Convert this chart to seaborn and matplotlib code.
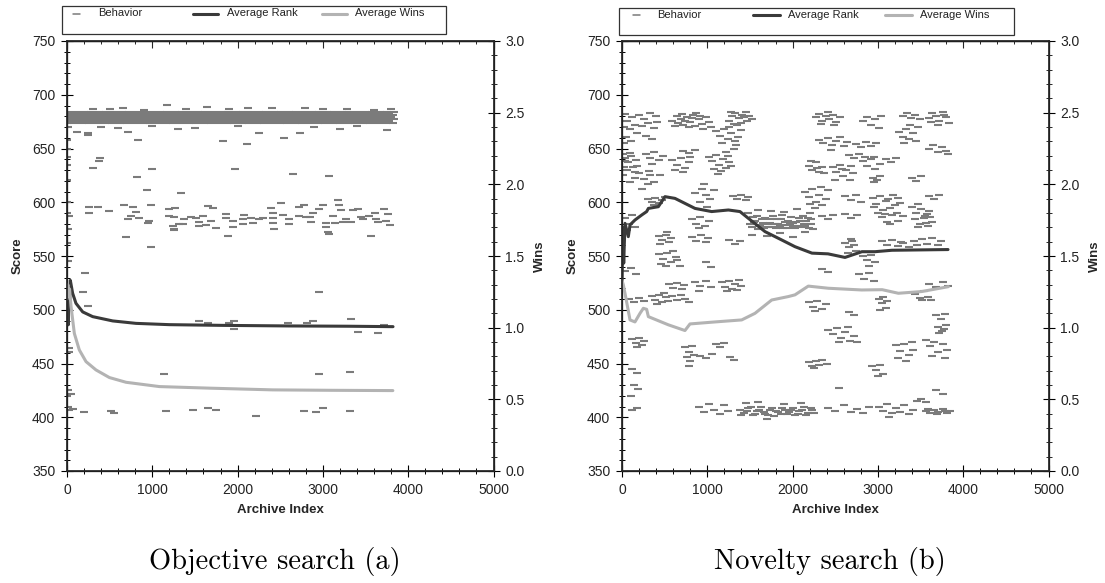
import numpy as np
import pandas as pd
import matplotlib
matplotlib.use("Agg")
import matplotlib.pyplot as plt
import seaborn as sns
from matplotlib.ticker import MultipleLocator
from matplotlib.patches import Rectangle
from matplotlib.lines import Line2D

sns.set_theme(style="white")
plt.rcParams["font.family"] = ["Liberation Sans", "DejaVu Sans"]

# ---------------- data ----------------
legend_labels = ["Behavior", "Average Rank", "Average Wins"]
captions = ["Objective search (a)", "Novelty search (b)"]
x_ticks = [0, 1000, 2000, 3000, 4000, 5000]
score_ticks = [350, 400, 450, 500, 550, 600, 650, 700, 750]
wins_ticks = [0.0, 0.5, 1.0, 1.5, 2.0, 2.5, 3.0]

# Objective search: Average Rank / Average Wins (archive index, wins)
rank_a_x = [0, 8, 15, 22, 30, 39, 66, 105, 184, 301, 536, 809, 1200, 1826, 2600, 3300, 3822]
rank_a_w = [1.10, 1.25, 1.02, 1.28, 1.15, 1.33, 1.24, 1.17, 1.11, 1.077, 1.047, 1.030, 1.021, 1.016, 1.012, 1.010, 1.007]
wins_a_x = [0, 10, 20, 30, 47, 86, 144, 223, 340, 497, 692, 1083, 1670, 2412, 3100, 3820]
wins_a_w = [1.20, 1.30, 1.22, 1.27, 1.15, 0.96, 0.845, 0.763, 0.705, 0.652, 0.619, 0.589, 0.578, 0.566, 0.563, 0.561]

# Novelty search: Average Rank / Average Wins
rank_b_x = [0, 10, 20, 35, 74, 94, 152, 231, 289, 309, 426, 504, 621, 856, 1051, 1247, 1383, 1481,
            1677, 1872, 2028, 2227, 2415, 2614, 2813, 2966, 3165, 3822]
rank_b_w = [1.28, 1.70, 1.45, 1.728, 1.635, 1.717, 1.751, 1.786, 1.81, 1.832, 1.844, 1.914, 1.902, 1.832,
            1.81, 1.821, 1.81, 1.763, 1.67, 1.612, 1.565, 1.52, 1.515, 1.49, 1.53, 1.53, 1.54, 1.545]
wins_b_x = [0, 15, 35, 94, 152, 211, 250, 289, 309, 543, 738, 797, 1090, 1403, 1559, 1755, 1950, 2028,
            2184, 2419, 2810, 3050, 3240, 3513, 3826]
wins_b_w = [1.33, 1.30, 1.24, 1.054, 1.04, 1.10, 1.135, 1.128, 1.077, 1.02, 0.98, 1.026, 1.04, 1.054, 1.10,
            1.193, 1.217, 1.229, 1.29, 1.275, 1.263, 1.265, 1.24, 1.252, 1.286]

# Objective search behavior: dense band around 673-685 (rows of dashes)
band_x_a = [0, 85, 178, 262, 355, 441, 530, 622, 708, 801, 889, 976, 1068, 1155, 1247, 1333, 1425, 1512, 1604,
            1690, 1783, 1871, 1960, 2049, 2137, 2228, 2315, 2404, 2492, 2583, 2671, 2760, 2848, 2937, 3027,
            3115, 3204, 3292, 3381, 3470, 3558, 3647, 3735, 3822]
band_x_b = [42, 130, 221, 309, 398, 487, 575, 664, 753, 842, 930, 1019, 1110, 1198, 1288, 1377, 1466, 1556,
            1645, 1735, 1825, 1914, 2003, 2093, 2182, 2271, 2360, 2448, 2538, 2627, 2716, 2805, 2893, 2982,
            3071, 3160, 3249, 3337, 3426, 3515, 3603, 3692, 3780]
band_x_c = [15, 104, 196, 283, 372, 460, 551, 640, 727, 820, 907, 995, 1087, 1175, 1266, 1352, 1444, 1531,
            1623, 1709, 1802, 1890, 1979, 2068, 2156, 2247, 2334, 2423, 2511, 2602, 2690, 2779, 2867, 2956,
            3046, 3134, 3223, 3311, 3400, 3489, 3577, 3666, 3754, 3830]
band_x_d = [60, 148, 239, 327, 416, 505, 593, 682, 771, 860, 948, 1037, 1128, 1216, 1306, 1395, 1484, 1574,
            1663, 1753, 1843, 1932, 2021, 2111, 2200, 2289, 2378, 2466, 2556, 2645, 2734, 2823, 2911, 3000,
            3089, 3178, 3267, 3355, 3444, 3533, 3621, 3710, 3798]
band_rows_y = [673.6, 675.4, 677.2, 679.0, 680.8, 682.6, 684.4]
band_rows_x = [band_x_a, band_x_b, band_x_c, band_x_d, band_x_a, band_x_b, band_x_c]

obj_near_band = [(657, 688), (1172, 690.5), (1637, 689), (2122, 688), (2790, 688), (3279, 686.5), (300, 687),
                 (900, 686), (1400, 687), (1900, 686.5), (2400, 687.5), (3000, 687), (3600, 686), (500, 686.5),
                 (3800, 687), (113, 665.6), (248, 664.7), (250, 662.5), (717, 665.6), (829, 658), (1829, 657.3),
                 (2107, 653.9), (2255, 664), (2544, 659.5), (2731, 664), (3200, 667.8), (3748, 667), (400, 670),
                 (1000, 671), (1500, 669.5), (2000, 670.5), (2900, 670), (3400, 671), (1300, 668), (600, 669)]
obj_mid = [(387, 641.5), (380, 638.4), (309, 631.6), (993, 630.7), (817, 623.8), (934, 611.4), (1336, 608.3),
           (1970, 631), (2646, 626), (3075, 624), (0, 657.9), (0, 650), (0, 642), (0, 634.7), (0, 620.7),
           (0, 589.7), (0, 561.8), (10, 670), (5, 600), (15, 575), (10, 545)]
obj_cluster = [(262, 595.3), (360, 595.3), (497, 591.9), (254, 589.7), (27, 587.2), (672, 597.4), (770, 595.9),
               (809, 591.2), (751, 587.2), (712, 584.1), (848, 585.7), (985, 597.4), (966, 582.6), (946, 580.4),
               (1200, 593.4), (1271, 595), (1200, 587.2), (1259, 586), (1376, 584.1), (1357, 579.8), (1239, 577.9),
               (1259, 574.8), (1318, 579.5), (1454, 586.6), (1513, 585.7), (1591, 587.2), (1650, 596.5),
               (1709, 594.4), (1552, 581.9), (1689, 582.6), (1630, 578.8), (1552, 577.9), (1748, 576.4),
               (1865, 588.8), (1865, 585.7), (1943, 582.6), (1943, 576.7), (2061, 579.5), (2061, 584.1),
               (2080, 588.1), (2158, 585.7), (2178, 580.4), (2256, 584.1), (2295, 585), (2393, 594.4),
               (2412, 590.3), (2412, 585), (2412, 580.4), (2432, 574.8), (2510, 599), (2530, 588.1), (2608, 584.1),
               (2608, 579.5), (2725, 595.3), (2725, 587.2), (2784, 597.4), (2803, 586.6), (2843, 586.6),
               (2862, 581.9), (2882, 589.7), (2960, 593.4), (2999, 597.4), (3038, 581), (3038, 577.3),
               (3058, 572.7), (3077, 570.5), (3116, 587.2), (3136, 580.4), (3175, 602.1), (3194, 597.4),
               (3214, 592.8), (3234, 581.9), (3273, 584.1), (3331, 581.9), (3351, 592.8), (3409, 593.4),
               (3449, 586.6), (3468, 584.1), (3546, 587.2), (3605, 589.7), (3624, 584.1), (3644, 581.9),
               (3722, 593.4), (3761, 589.1), (3781, 578.8), (3742, 582.9), (692, 568), (1885, 568.6), (3566, 568.6),
               (985, 558), (1259, 574.2)]
obj_low = [(215, 534.5), (184, 516.2), (242, 503.8), (2952, 516.2), (1552, 489.6), (1650, 488), (1963, 489.6),
           (1963, 482.1), (1904, 487.4), (2588, 487.4), (2811, 487.4), (2889, 489.6), (3331, 491.1), (3409, 479.6),
           (3644, 478.7), (3722, 485.9), (1134, 440), (2952, 440), (3312, 441.8), (66, 407.4), (203, 404.6),
           (516, 405.9), (555, 403.7), (1161, 405.9), (1474, 406.8), (1650, 408.4), (1748, 406.8), (2217, 401.2),
           (2784, 406.2), (2921, 404.6), (2999, 408.4), (3312, 405.6), (27, 464), (19, 461), (8, 425.4),
           (47, 421.7), (0, 420), (8, 410), (19, 406.8)]

# Novelty search behavior
nov_upper = [(30, 682), (120, 679), (60, 676), (200, 681), (260, 677), (150, 672), (330, 683), (400, 680),
             (20, 670), (90, 668), (240, 671), (310, 674), (380, 669), (180, 664), (50, 661), (280, 662),
             (410, 675), (110, 657), (350, 659), (20, 655),
             (590, 676), (640, 680), (690, 677), (720, 672), (760, 679), (800, 675), (830, 681), (860, 671),
             (900, 677), (940, 673), (980, 679), (1020, 675), (620, 671), (700, 682), (780, 670), (870, 683),
             (950, 668), (1040, 670), (660, 674), (740, 676), (820, 678), (910, 680),
             (1250, 676), (1290, 680), (1330, 683), (1370, 678), (1410, 681), (1450, 684), (1490, 680),
             (1520, 677), (1310, 673), (1390, 674), (1460, 676), (1280, 684), (1350, 672), (1430, 679),
             (1100, 666), (1150, 662), (1200, 668), (1240, 659), (1280, 664), (1320, 657), (1360, 661),
             (1390, 667), (1170, 655), (1260, 670), (1310, 650), (1220, 647), (1340, 653),
             (2270, 679), (2310, 682), (2350, 676), (2390, 680), (2430, 677), (2470, 681), (2510, 675),
             (2550, 679), (2330, 673), (2410, 684), (2490, 672),
             (2820, 676), (2870, 679), (2920, 672), (2970, 677), (3010, 669), (3040, 680),
             (3290, 680), (3340, 683), (3390, 678), (3440, 681), (3490, 677), (3470, 670), (3380, 672),
             (3600, 678), (3640, 683), (3680, 680), (3720, 676), (3760, 684), (3800, 679), (3830, 674),
             (3700, 672), (3780, 681), (3620, 675),
             (3250, 665), (3290, 661), (3330, 668), (3370, 659), (3410, 664), (3450, 657), (3310, 655),
             (2310, 658), (2360, 655), (2410, 660), (2460, 653), (2510, 657), (2560, 661), (2600, 652),
             (2640, 656), (2450, 649), (2740, 654), (2800, 651), (2860, 656), (2920, 652), (2980, 655),
             (3600, 650), (3650, 653), (3700, 647), (3750, 651), (3800, 648), (3820, 645)]
nov_middle = [(10, 645), (40, 641), (70, 637), (100, 643), (130, 633), (160, 639), (20, 633), (60, 630),
              (150, 628), (90, 646), (180, 634), (30, 638), (280, 645), (330, 641), (380, 647), (430, 639),
              (480, 643), (350, 636), (590, 639), (640, 635), (690, 641), (740, 632), (790, 637), (620, 630),
              (720, 628), (800, 642), (710, 648), (780, 646), (850, 649),
              (1020, 642), (1060, 638), (1100, 644), (1140, 635), (1180, 640), (1220, 632), (1260, 637),
              (1080, 631), (1160, 629), (1240, 643), (1280, 634), (1120, 626),
              (200, 627), (260, 622), (320, 629), (380, 619), (440, 625), (300, 617), (230, 612),
              (940, 612), (990, 607), (1030, 603), (960, 617),
              (2190, 634), (2230, 630), (2270, 637), (2310, 628), (2350, 633), (2210, 638), (2290, 632),
              (2370, 627), (2470, 633), (2510, 628), (2550, 635), (2590, 624), (2630, 630), (2670, 621),
              (2710, 627), (2500, 621), (2580, 631), (2690, 634), (2660, 644), (2720, 641), (2780, 645),
              (2850, 642), (2820, 638), (2870, 634), (2920, 640), (2970, 631), (3020, 636), (2950, 642),
              (3090, 640), (3150, 637), (3210, 641), (2940, 623), (2990, 621), (3030, 624), (2960, 619),
              (3400, 623), (3450, 620), (3500, 624), (10, 625), (90, 619), (150, 623), (330, 625),
              (310, 603), (350, 600), (390, 604), (430, 599), (470, 602), (500, 605), (370, 597),
              (860, 609), (920, 600), (1000, 596), (1080, 611),
              (1300, 606), (1350, 603), (1400, 607), (1450, 602), (1480, 605),
              (2150, 610), (2190, 605), (2230, 612), (2270, 600), (2310, 607), (2350, 597), (2390, 603),
              (2420, 611), (2200, 598), (2330, 614), (2260, 595),
              (2620, 606), (2680, 602), (2740, 607), (2800, 600),
              (2940, 604), (2980, 598), (3020, 606), (3060, 593), (3100, 601), (3140, 595), (3180, 607),
              (3220, 590), (3260, 599), (3000, 590), (3120, 603), (3200, 597), (2960, 596), (3080, 589),
              (3240, 604), (3600, 606), (3660, 603), (3720, 607),
              (3400, 596), (3450, 590), (3500, 594), (3550, 587), (3600, 592), (3470, 598), (3580, 589)]
nov_dense = [(1500, 580), (1560, 583), (1620, 578), (1680, 585), (1740, 581), (1800, 576), (1860, 584),
             (1920, 579), (1980, 586), (2040, 582), (2100, 577), (2160, 583), (2210, 580),
             (1530, 586), (1590, 575), (1650, 581), (1710, 577), (1770, 587), (1830, 580), (1890, 576),
             (1950, 583), (2010, 578), (2070, 585), (2130, 580), (2190, 576),
             (1520, 577), (1580, 587), (1640, 584), (1700, 580), (1760, 577), (1820, 584), (1880, 588),
             (1940, 576), (2000, 581), (2060, 578), (2120, 587), (2180, 585),
             (1550, 582), (1610, 579), (1670, 576), (1730, 584), (1790, 580), (1850, 578), (1910, 582),
             (1970, 580), (2030, 576), (2090, 583), (2150, 578), (2220, 584),
             (1480, 590), (1600, 593), (1750, 592), (1900, 591), (2050, 594), (2200, 590), (1520, 570),
             (1700, 569), (1850, 571), (2000, 568), (2150, 572), (2240, 575)]
nov_lower = [(40, 585), (80, 580), (120, 588), (60, 574), (150, 577),
             (820, 584), (870, 580), (920, 586), (970, 578), (1020, 583), (900, 576),
             (2350, 587), (2410, 584), (2470, 588), (2620, 589), (2690, 585), (2760, 588),
             (3050, 586), (3110, 582), (3170, 588), (3230, 583), (3290, 587), (3140, 580),
             (3440, 584), (3490, 580), (3540, 585), (3590, 578), (3640, 582), (3470, 577), (3560, 581), (3610, 586),
             (430, 569), (470, 565), (510, 570), (550, 563), (580, 567), (450, 561), (530, 572),
             (820, 568), (870, 564), (930, 570), (980, 563), (1010, 567),
             (1260, 565), (1320, 561), (1380, 564),
             (2620, 562), (2660, 558), (2700, 564), (2740, 555), (2650, 553), (2720, 560), (2680, 566),
             (3050, 564), (3110, 560), (3170, 565), (3230, 559), (3270, 563),
             (3300, 562), (3360, 558), (3420, 564), (3460, 560),
             (3520, 566), (3580, 561), (3640, 567), (3700, 560), (3740, 564),
             (2820, 550), (2870, 546), (2920, 551), (2970, 544), (2900, 541),
             (430, 552), (480, 547), (530, 553), (580, 544), (630, 549), (680, 541), (510, 541), (600, 555),
             (460, 543), (650, 546), (980, 544), (1040, 540),
             (40, 536), (110, 539), (160, 533), (2350, 538), (2420, 535),
             (2780, 533), (2840, 529), (2900, 534), (2950, 527),
             (550, 524), (600, 520), (650, 525), (700, 519), (730, 523),
             (860, 526), (920, 522), (980, 527), (1040, 521), (900, 517),
             (1170, 526), (1210, 521), (1250, 527), (1290, 519), (1330, 524), (1370, 528), (1400, 522),
             (1230, 517), (1350, 518), (3600, 524), (3680, 521), (3760, 526), (3820, 522),
             (350, 513), (390, 509), (430, 514), (470, 507), (510, 512), (540, 508), (410, 505), (490, 516),
             (590, 513), (640, 509), (690, 514), (740, 510), (780, 507),
             (80, 510), (140, 507), (200, 511), (260, 508),
             (2190, 507), (2240, 503), (2290, 508), (2340, 501), (2390, 505), (2260, 499),
             (3010, 510), (3050, 506), (3090, 502), (3030, 500), (3110, 508), (3060, 512),
             (3440, 515), (3490, 511), (3540, 517), (3590, 512), (3620, 509), (3520, 509),
             (2660, 498), (2720, 495), (3680, 495), (3740, 491), (3790, 496), (3700, 484), (3750, 480),
             (3800, 486), (3720, 478), (3780, 482)]
nov_bottom = [(120, 473), (160, 469), (200, 474), (240, 467), (180, 465), (260, 471),
              (2420, 481), (2470, 477), (2520, 483), (2570, 474), (2620, 479), (2670, 471), (2720, 476),
              (2760, 470), (2540, 470), (2650, 484),
              (740, 465), (780, 461), (820, 466), (760, 456), (800, 452), (840, 458), (790, 448),
              (1100, 468), (1150, 465), (1200, 469), (920, 457), (990, 455), (1050, 459), (1270, 456), (1310, 453),
              (2190, 451), (2230, 448), (2270, 452), (2310, 449), (2350, 453), (2400, 450), (2250, 446),
              (3210, 467), (3260, 462), (3310, 468), (3360, 458), (3410, 463), (3240, 455), (3330, 452), (3400, 470),
              (3560, 472), (3610, 466), (3660, 470), (3710, 461), (3760, 468), (3810, 463), (3640, 457), (3790, 455),
              (2930, 448), (2980, 444), (3030, 449), (3060, 440), (3000, 438),
              (2540, 427), (3680, 425), (3760, 422),
              (120, 445), (170, 441), (140, 430), (190, 426), (110, 420), (120, 407), (180, 409),
              (900, 410), (960, 405), (1020, 412), (1080, 407), (1150, 403), (1200, 411), (1240, 406),
              (1380, 407), (1430, 404), (1480, 409), (1530, 402), (1580, 406), (1630, 410), (1680, 403),
              (1730, 407), (1780, 401), (1830, 405), (1880, 409), (1930, 403), (1980, 407), (2030, 402),
              (2080, 406), (2130, 410), (2180, 404), (2230, 407),
              (1400, 402), (1460, 406), (1510, 410), (1560, 403), (1610, 407), (1660, 405), (1710, 402),
              (1760, 409), (1810, 406), (1860, 403), (1910, 407), (1960, 405), (2010, 409), (2060, 403),
              (2110, 407), (2160, 402), (2210, 409), (2250, 404),
              (1450, 413), (1600, 414), (1900, 412), (2100, 413), (1700, 398),
              (2420, 409), (2500, 406), (2600, 411), (2680, 405), (2750, 408), (2820, 404), (2900, 410),
              (3010, 410), (3060, 406), (3110, 412), (3160, 404), (3210, 409), (3260, 405), (3310, 411),
              (3360, 403), (3410, 407), (3130, 400),
              (3460, 415), (3510, 417), (3560, 414),
              (3560, 406), (3610, 404), (3660, 407), (3710, 405), (3760, 408), (3810, 404), (3850, 406),
              (3590, 408), (3690, 403), (3790, 406)]

# ---------------- build frames ----------------
def pairs_df(*groups):
    pts = [p for g in groups for p in g]
    return pd.DataFrame({"idx": [p[0] for p in pts], "score": [p[1] for p in pts]})

band_pts = [(x, y) for y, xs in zip(band_rows_y, band_rows_x) for x in xs]
beh_a = pairs_df(band_pts, obj_near_band, obj_mid, obj_cluster, obj_low)
beh_b = pairs_df(nov_upper, nov_middle, nov_dense, nov_lower, nov_bottom)

# ---------------- figure ----------------
W, H = 1105, 583
fig = plt.figure(figsize=(W / 100, H / 100), dpi=100)
fig.patch.set_facecolor("white")

BEH_COLOR = "#7b7b7b"
RANK_COLOR = "#3a3a3a"
WINS_COLOR = "#b3b3b3"
BEH_LW = 1.5
BEH_S = 36
TICK_FS = 10
LABEL_FS = 9.5


def fx(px):
    return px / W


def fy(py):
    return 1 - py / H


panels = [
    dict(left=67, beh=beh_a, rx=rank_a_x, rw=rank_a_w, wx=wins_a_x, ww=wins_a_w,
         box=(62, 6, 446, 34), dash=76, t1=98, l2=(193, 218), t2=227, l3=(322, 347), t3=355, ty=13.5,
         cap=275, cap_text=captions[0]),
    dict(left=622, beh=beh_b, rx=rank_b_x, rw=rank_b_w, wx=wins_b_x, ww=wins_b_w,
         box=(619, 8, 1014, 35), dash=636, t1=657, l2=(753, 780), t2=788, l3=(885, 912), t3=920, ty=14.5,
         cap=830, cap_text=captions[1]),
]

for p in panels:
    ax = fig.add_axes([fx(p["left"]), fy(471), 426.5 / W, 430 / H])
    ax.set_facecolor("white")
    sns.scatterplot(data=p["beh"], x="idx", y="score", marker="_", s=BEH_S, linewidth=BEH_LW,
                    color=BEH_COLOR, ax=ax, legend=False, zorder=2)
    ax.set_xlim(0, 5000)
    ax.set_ylim(350, 750)
    ax.set_xticks(x_ticks)
    ax.set_yticks(score_ticks)
    ax.xaxis.set_minor_locator(MultipleLocator(200))
    ax.yaxis.set_minor_locator(MultipleLocator(10))
    ax.tick_params(axis="both", which="major", direction="inout", length=9, width=0.8,
                   colors="black", labelsize=TICK_FS, labelcolor="#222222", pad=4)
    ax.tick_params(axis="both", which="minor", direction="inout", length=4.5, width=0.7, colors="black")
    ax.tick_params(axis="y", right=False, left=True, which="both")
    ax.tick_params(axis="x", bottom=True, top=False, which="both")
    ax.set_xlabel("Archive Index", fontsize=LABEL_FS, fontweight="bold", labelpad=5)
    ax.set_ylabel("Score", fontsize=LABEL_FS, fontweight="bold", labelpad=6)
    for s in ax.spines.values():
        s.set_color("black")
        s.set_linewidth(0.9)

    top = ax.secondary_xaxis("top")
    top.set_xticks(x_ticks)
    top.xaxis.set_minor_locator(MultipleLocator(200))
    top.tick_params(axis="x", which="major", direction="in", length=5, width=0.8, labeltop=False)
    top.tick_params(axis="x", which="minor", direction="in", length=2.5, width=0.7)
    top.spines["top"].set_linewidth(0.9)

    ax2 = ax.twinx()
    sns.lineplot(x=p["rx"], y=p["rw"], ax=ax2, color=RANK_COLOR, linewidth=2.2, legend=False)
    sns.lineplot(x=p["wx"], y=p["ww"], ax=ax2, color=WINS_COLOR, linewidth=2.2, legend=False)
    ax2.set_ylim(0, 3)
    ax2.set_xlim(0, 5000)
    ax2.set_yticks(wins_ticks)
    ax2.set_yticklabels([f"{v:.1f}" for v in wins_ticks])
    ax2.yaxis.set_minor_locator(MultipleLocator(0.1))
    ax2.tick_params(axis="y", which="major", direction="inout", length=9, width=0.8,
                    colors="black", labelsize=TICK_FS, labelcolor="#222222", pad=4)
    ax2.tick_params(axis="y", which="minor", direction="inout", length=4.5, width=0.7)
    ax2.set_ylabel("Wins", fontsize=LABEL_FS, fontweight="bold", labelpad=7)
    ax2.grid(False)
    ax.grid(False)

    # legend box
    x0, y0, x1, y1 = p["box"]
    fig.add_artist(Rectangle((fx(x0), fy(y1)), fx(x1) - fx(x0), fy(y0) - fy(y1),
                             transform=fig.transFigure, fill=False, edgecolor="#333333", linewidth=0.9))
    ty = p["ty"]
    fig.add_artist(Line2D([fx(p["dash"] - 3.5), fx(p["dash"] + 3.5)], [fy(ty), fy(ty)],
                          transform=fig.transFigure, color=BEH_COLOR, linewidth=1.1))
    fig.add_artist(Line2D([fx(p["l2"][0]), fx(p["l2"][1])], [fy(ty), fy(ty)],
                          transform=fig.transFigure, color=RANK_COLOR, linewidth=2.2))
    fig.add_artist(Line2D([fx(p["l3"][0]), fx(p["l3"][1])], [fy(ty), fy(ty)],
                          transform=fig.transFigure, color=WINS_COLOR, linewidth=2.2))
    for tx, lab in zip([p["t1"], p["t2"], p["t3"]], legend_labels):
        fig.text(fx(tx), fy(ty), lab, fontsize=8, color="#222222", va="center", ha="left")

    fig.text(fx(p["cap"]), fy(562), p["cap_text"], fontsize=20.5, family="cmr10",
             ha="center", va="center", color="black")

fig.savefig("out.png", dpi=100, facecolor="white")
